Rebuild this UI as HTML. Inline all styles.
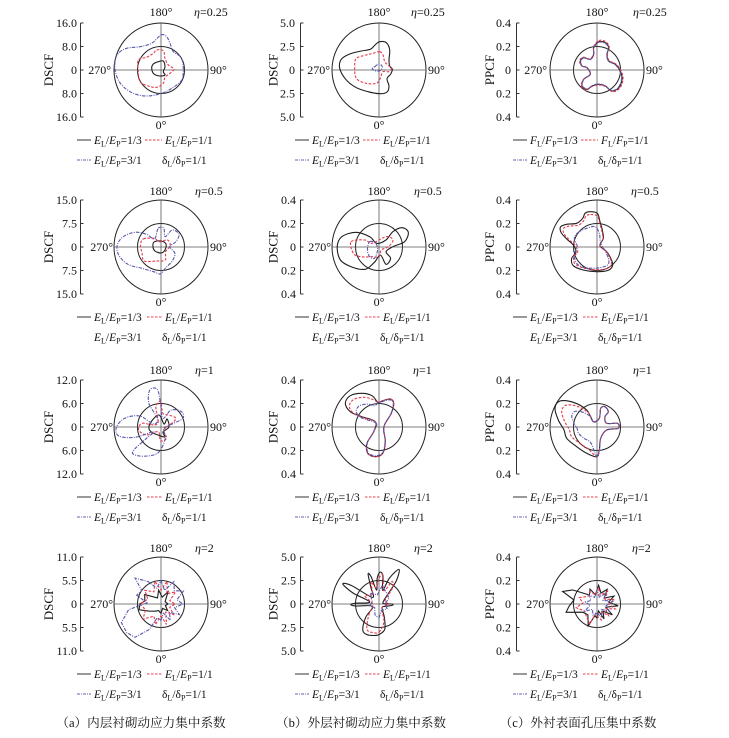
<!DOCTYPE html>
<html><head><meta charset="utf-8">
<style>
html,body{margin:0;padding:0;background:#fff;}
svg{display:block;}
text{font-family:"Liberation Serif","Noto Serif CJK SC",serif;fill:#111;font-size:12px;}
text:has(tspan.sb){font-size:11.5px;}
.c{fill:none;stroke:#222;stroke-width:1;}
.x{stroke:#555;stroke-width:0.8;}
.ax{fill:none;stroke:#333;stroke-width:1;}
.t{text-anchor:end;}
.m{text-anchor:middle;}
.e{text-anchor:end;}
.yl{text-anchor:middle;font-size:13px;}
.i{font-style:italic;}
.sb{font-size:8px;}
.lk{stroke:#333;stroke-width:1;}
.lr{stroke:#e8404f;stroke-width:1;stroke-dasharray:2.5,1.5;}
.lb{stroke:#6666b0;stroke-width:1;stroke-dasharray:3,1,1,1;}
.cap{font-family:"Liberation Serif","Noto Serif CJK SC",serif;font-size:12.6px;text-anchor:middle;}
</style></head><body>
<svg id="s" width="729" height="738" viewBox="0 0 729 738" xmlns="http://www.w3.org/2000/svg">
<rect width="729" height="738" fill="#fff"/>

<!-- ================= ROW 1 ================= -->
<g transform="translate(161,70)">
 <circle r="47" class="c"/><circle r="23.5" class="c"/>
 <line x1="-47" y1="0" x2="47" y2="0" class="x"/><line x1="0" y1="-47" x2="0" y2="47" class="x"/>
 <path d="M-80.5,-47V47M-80.5,-47h3M-80.5,-23.5h3M-80.5,0h3M-80.5,23.5h3M-80.5,47h3" class="ax"/>
 <text x="-84" y="-43" class="t">16.0</text><text x="-84" y="-19.5" class="t">8.0</text><text x="-84" y="4" class="t">0</text><text x="-84" y="27.5" class="t">8.0</text><text x="-84" y="51" class="t">16.0</text>
 <text transform="translate(-108,0) rotate(-90)" class="yl">DSCF</text>
 <text x="0" y="-54" class="m">180°</text><text x="0" y="59" class="m">0°</text>
 <text x="-50" y="4" class="e">270°</text><text x="49" y="4">90°</text>
 <text x="33" y="-54"><tspan class="i">η</tspan>=0.25</text>
 <line x1="-84" y1="70" x2="-70" y2="70" class="lk"/>
 <text x="-67" y="74"><tspan class="i">E</tspan><tspan class="sb" dy="2.5">L</tspan><tspan dy="-2.5">/</tspan><tspan class="i">E</tspan><tspan class="sb" dy="2.5">P</tspan><tspan dy="-2.5">=1/3</tspan></text>
 <line x1="-16" y1="70" x2="1" y2="70" class="lr"/>
 <text x="4" y="74"><tspan class="i">E</tspan><tspan class="sb" dy="2.5">L</tspan><tspan dy="-2.5">/</tspan><tspan class="i">E</tspan><tspan class="sb" dy="2.5">P</tspan><tspan dy="-2.5">=1/1</tspan></text>
 <line x1="-84" y1="90" x2="-70" y2="90" class="lb"/>
 <text x="-67" y="94"><tspan class="i">E</tspan><tspan class="sb" dy="2.5">L</tspan><tspan dy="-2.5">/</tspan><tspan class="i">E</tspan><tspan class="sb" dy="2.5">P</tspan><tspan dy="-2.5">=3/1</tspan></text>
 <text x="1" y="94">δ<tspan class="sb" dy="2.5">L</tspan><tspan dy="-2.5">/δ</tspan><tspan class="sb" dy="2.5">P</tspan><tspan dy="-2.5">=1/1</tspan></text>
</g>

<g transform="translate(379,70)">
 <circle r="47" class="c"/>
 <line x1="-47" y1="0" x2="47" y2="0" class="x"/><line x1="0" y1="-47" x2="0" y2="47" class="x"/>
 <path d="M-78.5,-47V47M-78.5,-47h3M-78.5,-23.5h3M-78.5,0h3M-78.5,23.5h3M-78.5,47h3" class="ax"/>
 <text x="-84" y="-43" class="t">5.0</text><text x="-84" y="-19.5" class="t">2.5</text><text x="-84" y="4" class="t">0</text><text x="-84" y="27.5" class="t">2.5</text><text x="-84" y="51" class="t">5.0</text>
 <text transform="translate(-101.5,0) rotate(-90)" class="yl">DSCF</text>
 <text x="0" y="-54" class="m">180°</text><text x="0" y="59" class="m">0°</text>
 <text x="-49" y="4" class="e">270°</text><text x="49" y="4">90°</text>
 <text x="32" y="-54"><tspan class="i">η</tspan>=0.25</text>
 <line x1="-84" y1="70" x2="-70" y2="70" class="lk"/>
 <text x="-67" y="74"><tspan class="i">E</tspan><tspan class="sb" dy="2.5">L</tspan><tspan dy="-2.5">/</tspan><tspan class="i">E</tspan><tspan class="sb" dy="2.5">P</tspan><tspan dy="-2.5">=1/3</tspan></text>
 <line x1="-16" y1="70" x2="1" y2="70" class="lr"/>
 <text x="4" y="74"><tspan class="i">E</tspan><tspan class="sb" dy="2.5">L</tspan><tspan dy="-2.5">/</tspan><tspan class="i">E</tspan><tspan class="sb" dy="2.5">P</tspan><tspan dy="-2.5">=1/1</tspan></text>
 <line x1="-84" y1="90" x2="-70" y2="90" class="lb"/>
 <text x="-67" y="94"><tspan class="i">E</tspan><tspan class="sb" dy="2.5">L</tspan><tspan dy="-2.5">/</tspan><tspan class="i">E</tspan><tspan class="sb" dy="2.5">P</tspan><tspan dy="-2.5">=3/1</tspan></text>
 <text x="1" y="94">δ<tspan class="sb" dy="2.5">L</tspan><tspan dy="-2.5">/δ</tspan><tspan class="sb" dy="2.5">P</tspan><tspan dy="-2.5">=1/1</tspan></text>
</g>

<g transform="translate(597,70)">
 <circle r="47" class="c"/><circle r="23.5" class="c"/>
 <line x1="-47" y1="0" x2="47" y2="0" class="x"/><line x1="0" y1="-47" x2="0" y2="47" class="x"/>
 <path d="M-80.5,-47V47M-80.5,-47h3M-80.5,-23.5h3M-80.5,0h3M-80.5,23.5h3M-80.5,47h3" class="ax"/>
 <text x="-86" y="-43" class="t">0.4</text><text x="-86" y="-19.5" class="t">0.2</text><text x="-86" y="4" class="t">0</text><text x="-86" y="27.5" class="t">0.2</text><text x="-86" y="51" class="t">0.4</text>
 <text transform="translate(-103,0) rotate(-90)" class="yl">PPCF</text>
 <text x="0" y="-54" class="m">180°</text><text x="0" y="59" class="m">0°</text>
 <text x="-50" y="4" class="e">270°</text><text x="49" y="4">90°</text>
 <text x="36" y="-54"><tspan class="i">η</tspan>=0.25</text>
 <line x1="-84" y1="70" x2="-70" y2="70" class="lk"/>
 <text x="-67" y="74"><tspan class="i">F</tspan><tspan class="sb" dy="2.5">L</tspan><tspan dy="-2.5">/</tspan><tspan class="i">F</tspan><tspan class="sb" dy="2.5">P</tspan><tspan dy="-2.5">=1/3</tspan></text>
 <line x1="-16" y1="70" x2="1" y2="70" class="lr"/>
 <text x="4" y="74"><tspan class="i">F</tspan><tspan class="sb" dy="2.5">L</tspan><tspan dy="-2.5">/</tspan><tspan class="i">F</tspan><tspan class="sb" dy="2.5">P</tspan><tspan dy="-2.5">=1/1</tspan></text>
 <line x1="-84" y1="90" x2="-70" y2="90" class="lb"/>
 <text x="-67" y="94"><tspan class="i">E</tspan><tspan class="sb" dy="2.5">L</tspan><tspan dy="-2.5">/</tspan><tspan class="i">E</tspan><tspan class="sb" dy="2.5">P</tspan><tspan dy="-2.5">=3/1</tspan></text>
 <text x="1" y="94">δ<tspan class="sb" dy="2.5">L</tspan><tspan dy="-2.5">/δ</tspan><tspan class="sb" dy="2.5">P</tspan><tspan dy="-2.5">=1/1</tspan></text>
</g>

<!-- ================= ROW 2 ================= -->
<g transform="translate(161,247)">
 <circle r="47" class="c"/><circle r="23.5" class="c"/>
 <line x1="-47" y1="0" x2="47" y2="0" class="x"/><line x1="0" y1="-47" x2="0" y2="47" class="x"/>
 <path d="M-80.5,-47V47M-80.5,-47h3M-80.5,-23.5h3M-80.5,0h3M-80.5,23.5h3M-80.5,47h3" class="ax"/>
 <text x="-84" y="-43" class="t">15.0</text><text x="-84" y="-19.5" class="t">7.5</text><text x="-84" y="4" class="t">0</text><text x="-84" y="27.5" class="t">7.5</text><text x="-84" y="51" class="t">15.0</text>
 <text transform="translate(-108,0) rotate(-90)" class="yl">DSCF</text>
 <text x="0" y="-52" class="m">180°</text><text x="0" y="59" class="m">0°</text>
 <text x="-48" y="4" class="e">270°</text><text x="49" y="4">90°</text>
 <text x="34" y="-52"><tspan class="i">η</tspan>=0.5</text>
 <line x1="-84" y1="70" x2="-70" y2="70" class="lk"/>
 <text x="-67" y="74"><tspan class="i">E</tspan><tspan class="sb" dy="2.5">L</tspan><tspan dy="-2.5">/</tspan><tspan class="i">E</tspan><tspan class="sb" dy="2.5">P</tspan><tspan dy="-2.5">=1/3</tspan></text>
 <line x1="-14" y1="70" x2="1" y2="70" class="lr"/>
 <text x="4" y="74"><tspan class="i">E</tspan><tspan class="sb" dy="2.5">L</tspan><tspan dy="-2.5">/</tspan><tspan class="i">E</tspan><tspan class="sb" dy="2.5">P</tspan><tspan dy="-2.5">=1/1</tspan></text>
 <text x="-67" y="94"><tspan class="i">E</tspan><tspan class="sb" dy="2.5">L</tspan><tspan dy="-2.5">/</tspan><tspan class="i">E</tspan><tspan class="sb" dy="2.5">P</tspan><tspan dy="-2.5">=3/1</tspan></text>
 <text x="1" y="94">δ<tspan class="sb" dy="2.5">L</tspan><tspan dy="-2.5">/δ</tspan><tspan class="sb" dy="2.5">P</tspan><tspan dy="-2.5">=1/1</tspan></text>
</g>

<g transform="translate(379,247)">
 <circle r="47" class="c"/><circle r="23.5" class="c"/>
 <line x1="-47" y1="0" x2="47" y2="0" class="x"/><line x1="0" y1="-47" x2="0" y2="47" class="x"/>
 <path d="M-78.5,-47V47M-78.5,-47h3M-78.5,-23.5h3M-78.5,0h3M-78.5,23.5h3M-78.5,47h3" class="ax"/>
 <text x="-83" y="-43" class="t">0.4</text><text x="-83" y="-19.5" class="t">0.2</text><text x="-83" y="4" class="t">0</text><text x="-83" y="27.5" class="t">0.2</text><text x="-83" y="51" class="t">0.4</text>
 <text transform="translate(-101.5,0) rotate(-90)" class="yl">DSCF</text>
 <text x="0" y="-52" class="m">180°</text><text x="0" y="59" class="m">0°</text>
 <text x="-48" y="4" class="e">270°</text><text x="49" y="4">90°</text>
 <text x="35" y="-52"><tspan class="i">η</tspan>=0.5</text>
 <line x1="-84" y1="70" x2="-70" y2="70" class="lk"/>
 <text x="-67" y="74"><tspan class="i">E</tspan><tspan class="sb" dy="2.5">L</tspan><tspan dy="-2.5">/</tspan><tspan class="i">E</tspan><tspan class="sb" dy="2.5">P</tspan><tspan dy="-2.5">=1/3</tspan></text>
 <line x1="-14" y1="70" x2="1" y2="70" class="lr"/>
 <text x="4" y="74"><tspan class="i">E</tspan><tspan class="sb" dy="2.5">L</tspan><tspan dy="-2.5">/</tspan><tspan class="i">E</tspan><tspan class="sb" dy="2.5">P</tspan><tspan dy="-2.5">=1/1</tspan></text>
 <text x="-67" y="94"><tspan class="i">E</tspan><tspan class="sb" dy="2.5">L</tspan><tspan dy="-2.5">/</tspan><tspan class="i">E</tspan><tspan class="sb" dy="2.5">P</tspan><tspan dy="-2.5">=3/1</tspan></text>
 <text x="1" y="94">δ<tspan class="sb" dy="2.5">L</tspan><tspan dy="-2.5">/δ</tspan><tspan class="sb" dy="2.5">P</tspan><tspan dy="-2.5">=1/1</tspan></text>
</g>

<g transform="translate(597,247)">
 <circle r="47" class="c"/><circle r="23.5" class="c"/>
 <line x1="-47" y1="0" x2="47" y2="0" class="x"/><line x1="0" y1="-47" x2="0" y2="47" class="x"/>
 <path d="M-80.5,-47V47M-80.5,-47h3M-80.5,-23.5h3M-80.5,0h3M-80.5,23.5h3M-80.5,47h3" class="ax"/>
 <text x="-86" y="-43" class="t">0.4</text><text x="-86" y="-19.5" class="t">0.2</text><text x="-86" y="4" class="t">0</text><text x="-86" y="27.5" class="t">0.2</text><text x="-86" y="51" class="t">0.4</text>
 <text transform="translate(-103,0) rotate(-90)" class="yl">PPCF</text>
 <text x="0" y="-52" class="m">180°</text><text x="0" y="59" class="m">0°</text>
 <text x="-48" y="4" class="e">270°</text><text x="49" y="4">90°</text>
 <text x="34" y="-52"><tspan class="i">η</tspan>=0.5</text>
 <line x1="-84" y1="70" x2="-70" y2="70" class="lk"/>
 <text x="-67" y="74"><tspan class="i">E</tspan><tspan class="sb" dy="2.5">L</tspan><tspan dy="-2.5">/</tspan><tspan class="i">E</tspan><tspan class="sb" dy="2.5">P</tspan><tspan dy="-2.5">=1/3</tspan></text>
 <line x1="-14" y1="70" x2="1" y2="70" class="lr"/>
 <text x="4" y="74"><tspan class="i">E</tspan><tspan class="sb" dy="2.5">L</tspan><tspan dy="-2.5">/</tspan><tspan class="i">E</tspan><tspan class="sb" dy="2.5">P</tspan><tspan dy="-2.5">=1/1</tspan></text>
 <text x="-67" y="94"><tspan class="i">E</tspan><tspan class="sb" dy="2.5">L</tspan><tspan dy="-2.5">/</tspan><tspan class="i">E</tspan><tspan class="sb" dy="2.5">P</tspan><tspan dy="-2.5">=3/1</tspan></text>
 <text x="1" y="94">δ<tspan class="sb" dy="2.5">L</tspan><tspan dy="-2.5">/δ</tspan><tspan class="sb" dy="2.5">P</tspan><tspan dy="-2.5">=1/1</tspan></text>
</g>

<!-- ================= ROW 3 ================= -->
<g transform="translate(161,427)">
 <circle r="47" class="c"/><circle r="23.5" class="c"/>
 <line x1="-47" y1="0" x2="47" y2="0" class="x"/><line x1="0" y1="-47" x2="0" y2="47" class="x"/>
 <path d="M-80.5,-47V47M-80.5,-47h3M-80.5,-23.5h3M-80.5,0h3M-80.5,23.5h3M-80.5,47h3" class="ax"/>
 <text x="-84" y="-43" class="t">12.0</text><text x="-84" y="-19.5" class="t">6.0</text><text x="-84" y="4" class="t">0</text><text x="-84" y="27.5" class="t">6.0</text><text x="-84" y="51" class="t">12.0</text>
 <text transform="translate(-108,0) rotate(-90)" class="yl">DSCF</text>
 <text x="0" y="-53" class="m">180°</text><text x="0" y="59" class="m">0°</text>
 <text x="-48" y="4" class="e">270°</text><text x="49" y="4">90°</text>
 <text x="34" y="-53"><tspan class="i">η</tspan>=1</text>
 <line x1="-84" y1="70" x2="-70" y2="70" class="lk"/>
 <text x="-67" y="74"><tspan class="i">E</tspan><tspan class="sb" dy="2.5">L</tspan><tspan dy="-2.5">/</tspan><tspan class="i">E</tspan><tspan class="sb" dy="2.5">P</tspan><tspan dy="-2.5">=1/3</tspan></text>
 <line x1="-14" y1="70" x2="1" y2="70" class="lr"/>
 <text x="4" y="74"><tspan class="i">E</tspan><tspan class="sb" dy="2.5">L</tspan><tspan dy="-2.5">/</tspan><tspan class="i">E</tspan><tspan class="sb" dy="2.5">P</tspan><tspan dy="-2.5">=1/1</tspan></text>
 <line x1="-84" y1="90" x2="-70" y2="90" class="lb"/>
 <text x="-67" y="94"><tspan class="i">E</tspan><tspan class="sb" dy="2.5">L</tspan><tspan dy="-2.5">/</tspan><tspan class="i">E</tspan><tspan class="sb" dy="2.5">P</tspan><tspan dy="-2.5">=3/1</tspan></text>
 <text x="1" y="94">δ<tspan class="sb" dy="2.5">L</tspan><tspan dy="-2.5">/δ</tspan><tspan class="sb" dy="2.5">P</tspan><tspan dy="-2.5">=1/1</tspan></text>
</g>

<g transform="translate(379,427)">
 <circle r="47" class="c"/><circle r="23.5" class="c"/>
 <line x1="-47" y1="0" x2="47" y2="0" class="x"/><line x1="0" y1="-47" x2="0" y2="47" class="x"/>
 <path d="M-78.5,-47V47M-78.5,-47h3M-78.5,-23.5h3M-78.5,0h3M-78.5,23.5h3M-78.5,47h3" class="ax"/>
 <text x="-83" y="-43" class="t">0.4</text><text x="-83" y="-19.5" class="t">0.2</text><text x="-83" y="4" class="t">0</text><text x="-83" y="27.5" class="t">0.2</text><text x="-83" y="51" class="t">0.4</text>
 <text transform="translate(-101.5,0) rotate(-90)" class="yl">DSCF</text>
 <text x="0" y="-53" class="m">180°</text><text x="0" y="59" class="m">0°</text>
 <text x="-48" y="4" class="e">270°</text><text x="49" y="4">90°</text>
 <text x="34" y="-53"><tspan class="i">η</tspan>=1</text>
 <line x1="-84" y1="70" x2="-70" y2="70" class="lk"/>
 <text x="-67" y="74"><tspan class="i">E</tspan><tspan class="sb" dy="2.5">L</tspan><tspan dy="-2.5">/</tspan><tspan class="i">E</tspan><tspan class="sb" dy="2.5">P</tspan><tspan dy="-2.5">=1/3</tspan></text>
 <line x1="-14" y1="70" x2="1" y2="70" class="lr"/>
 <text x="4" y="74"><tspan class="i">E</tspan><tspan class="sb" dy="2.5">L</tspan><tspan dy="-2.5">/</tspan><tspan class="i">E</tspan><tspan class="sb" dy="2.5">P</tspan><tspan dy="-2.5">=1/1</tspan></text>
 <line x1="-84" y1="90" x2="-70" y2="90" class="lb"/>
 <text x="-67" y="94"><tspan class="i">E</tspan><tspan class="sb" dy="2.5">L</tspan><tspan dy="-2.5">/</tspan><tspan class="i">E</tspan><tspan class="sb" dy="2.5">P</tspan><tspan dy="-2.5">=3/1</tspan></text>
 <text x="1" y="94">δ<tspan class="sb" dy="2.5">L</tspan><tspan dy="-2.5">/δ</tspan><tspan class="sb" dy="2.5">P</tspan><tspan dy="-2.5">=1/1</tspan></text>
</g>

<g transform="translate(597,427)">
 <circle r="47" class="c"/><circle r="23.5" class="c"/>
 <line x1="-47" y1="0" x2="47" y2="0" class="x"/><line x1="0" y1="-47" x2="0" y2="47" class="x"/>
 <path d="M-80.5,-47V47M-80.5,-47h3M-80.5,-23.5h3M-80.5,0h3M-80.5,23.5h3M-80.5,47h3" class="ax"/>
 <text x="-86" y="-43" class="t">0.4</text><text x="-86" y="-19.5" class="t">0.2</text><text x="-86" y="4" class="t">0</text><text x="-86" y="27.5" class="t">0.2</text><text x="-86" y="51" class="t">0.4</text>
 <text transform="translate(-103,0) rotate(-90)" class="yl">PPCF</text>
 <text x="0" y="-53" class="m">180°</text><text x="0" y="59" class="m">0°</text>
 <text x="-48" y="4" class="e">270°</text><text x="49" y="4">90°</text>
 <text x="36" y="-53"><tspan class="i">η</tspan>=1</text>
 <line x1="-84" y1="70" x2="-70" y2="70" class="lk"/>
 <text x="-67" y="74"><tspan class="i">E</tspan><tspan class="sb" dy="2.5">L</tspan><tspan dy="-2.5">/</tspan><tspan class="i">E</tspan><tspan class="sb" dy="2.5">P</tspan><tspan dy="-2.5">=1/3</tspan></text>
 <line x1="-14" y1="70" x2="1" y2="70" class="lr"/>
 <text x="4" y="74"><tspan class="i">E</tspan><tspan class="sb" dy="2.5">L</tspan><tspan dy="-2.5">/</tspan><tspan class="i">E</tspan><tspan class="sb" dy="2.5">P</tspan><tspan dy="-2.5">=1/1</tspan></text>
 <line x1="-84" y1="90" x2="-70" y2="90" class="lb"/>
 <text x="-67" y="94"><tspan class="i">E</tspan><tspan class="sb" dy="2.5">L</tspan><tspan dy="-2.5">/</tspan><tspan class="i">E</tspan><tspan class="sb" dy="2.5">P</tspan><tspan dy="-2.5">=3/1</tspan></text>
 <text x="1" y="94">δ<tspan class="sb" dy="2.5">L</tspan><tspan dy="-2.5">/δ</tspan><tspan class="sb" dy="2.5">P</tspan><tspan dy="-2.5">=1/1</tspan></text>
</g>

<!-- ================= ROW 4 ================= -->
<g transform="translate(161,604)">
 <circle r="47" class="c"/><circle r="23.5" class="c"/>
 <line x1="-47" y1="0" x2="47" y2="0" class="x"/><line x1="0" y1="-47" x2="0" y2="47" class="x"/>
 <path d="M-80.5,-47V47M-80.5,-47h3M-80.5,-23.5h3M-80.5,0h3M-80.5,23.5h3M-80.5,47h3" class="ax"/>
 <text x="-84" y="-43" class="t">11.0</text><text x="-84" y="-19.5" class="t">5.5</text><text x="-84" y="4" class="t">0</text><text x="-84" y="27.5" class="t">5.5</text><text x="-84" y="51" class="t">11.0</text>
 <text transform="translate(-108,0) rotate(-90)" class="yl">DSCF</text>
 <text x="0" y="-52" class="m">180°</text><text x="0" y="59" class="m">0°</text>
 <text x="-48" y="4" class="e">270°</text><text x="49" y="4">90°</text>
 <text x="34" y="-52"><tspan class="i">η</tspan>=2</text>
 <line x1="-84" y1="70" x2="-70" y2="70" class="lk"/>
 <text x="-67" y="74"><tspan class="i">E</tspan><tspan class="sb" dy="2.5">L</tspan><tspan dy="-2.5">/</tspan><tspan class="i">E</tspan><tspan class="sb" dy="2.5">P</tspan><tspan dy="-2.5">=1/3</tspan></text>
 <line x1="-14" y1="70" x2="1" y2="70" class="lr"/>
 <text x="4" y="74"><tspan class="i">E</tspan><tspan class="sb" dy="2.5">L</tspan><tspan dy="-2.5">/</tspan><tspan class="i">E</tspan><tspan class="sb" dy="2.5">P</tspan><tspan dy="-2.5">=1/1</tspan></text>
 <line x1="-84" y1="90" x2="-70" y2="90" class="lb"/>
 <text x="-67" y="94"><tspan class="i">E</tspan><tspan class="sb" dy="2.5">L</tspan><tspan dy="-2.5">/</tspan><tspan class="i">E</tspan><tspan class="sb" dy="2.5">P</tspan><tspan dy="-2.5">=3/1</tspan></text>
 <text x="1" y="94">δ<tspan class="sb" dy="2.5">L</tspan><tspan dy="-2.5">/δ</tspan><tspan class="sb" dy="2.5">P</tspan><tspan dy="-2.5">=1/1</tspan></text>
</g>

<g transform="translate(379,604)">
 <circle r="47" class="c"/><circle r="23.5" class="c"/>
 <line x1="-47" y1="0" x2="47" y2="0" class="x"/><line x1="0" y1="-47" x2="0" y2="47" class="x"/>
 <path d="M-78.5,-47V47M-78.5,-47h3M-78.5,-23.5h3M-78.5,0h3M-78.5,23.5h3M-78.5,47h3" class="ax"/>
 <text x="-83" y="-43" class="t">5.0</text><text x="-83" y="-19.5" class="t">2.5</text><text x="-83" y="4" class="t">0</text><text x="-83" y="27.5" class="t">2.5</text><text x="-83" y="51" class="t">5.0</text>
 <text transform="translate(-101.5,0) rotate(-90)" class="yl">DSCF</text>
 <text x="0" y="-52" class="m">180°</text><text x="0" y="59" class="m">0°</text>
 <text x="-48" y="4" class="e">270°</text><text x="49" y="4">90°</text>
 <text x="35" y="-52"><tspan class="i">η</tspan>=2</text>
 <line x1="-84" y1="70" x2="-70" y2="70" class="lk"/>
 <text x="-67" y="74"><tspan class="i">E</tspan><tspan class="sb" dy="2.5">L</tspan><tspan dy="-2.5">/</tspan><tspan class="i">E</tspan><tspan class="sb" dy="2.5">P</tspan><tspan dy="-2.5">=1/3</tspan></text>
 <line x1="-14" y1="70" x2="1" y2="70" class="lr"/>
 <text x="4" y="74"><tspan class="i">E</tspan><tspan class="sb" dy="2.5">L</tspan><tspan dy="-2.5">/</tspan><tspan class="i">E</tspan><tspan class="sb" dy="2.5">P</tspan><tspan dy="-2.5">=1/1</tspan></text>
 <line x1="-84" y1="90" x2="-70" y2="90" class="lb"/>
 <text x="-67" y="94"><tspan class="i">E</tspan><tspan class="sb" dy="2.5">L</tspan><tspan dy="-2.5">/</tspan><tspan class="i">E</tspan><tspan class="sb" dy="2.5">P</tspan><tspan dy="-2.5">=3/1</tspan></text>
 <text x="1" y="94">δ<tspan class="sb" dy="2.5">L</tspan><tspan dy="-2.5">/δ</tspan><tspan class="sb" dy="2.5">P</tspan><tspan dy="-2.5">=1/1</tspan></text>
</g>

<g transform="translate(597,604)">
 <circle r="47" class="c"/><circle r="23.5" class="c"/>
 <line x1="-47" y1="0" x2="47" y2="0" class="x"/><line x1="0" y1="-47" x2="0" y2="47" class="x"/>
 <path d="M-80.5,-47V47M-80.5,-47h3M-80.5,-23.5h3M-80.5,0h3M-80.5,23.5h3M-80.5,47h3" class="ax"/>
 <text x="-86" y="-43" class="t">0.4</text><text x="-86" y="-19.5" class="t">0.2</text><text x="-86" y="4" class="t">0</text><text x="-86" y="27.5" class="t">0.2</text><text x="-86" y="51" class="t">0.4</text>
 <text transform="translate(-103,0) rotate(-90)" class="yl">PPCF</text>
 <text x="0" y="-52" class="m">180°</text><text x="0" y="59" class="m">0°</text>
 <text x="-48" y="4" class="e">270°</text><text x="49" y="4">90°</text>
 <text x="35" y="-52"><tspan class="i">η</tspan>=2</text>
 <line x1="-84" y1="70" x2="-70" y2="70" class="lk"/>
 <text x="-67" y="74"><tspan class="i">E</tspan><tspan class="sb" dy="2.5">L</tspan><tspan dy="-2.5">/</tspan><tspan class="i">E</tspan><tspan class="sb" dy="2.5">P</tspan><tspan dy="-2.5">=1/3</tspan></text>
 <line x1="-14" y1="70" x2="1" y2="70" class="lr"/>
 <text x="4" y="74"><tspan class="i">E</tspan><tspan class="sb" dy="2.5">L</tspan><tspan dy="-2.5">/</tspan><tspan class="i">E</tspan><tspan class="sb" dy="2.5">P</tspan><tspan dy="-2.5">=1/1</tspan></text>
 <line x1="-84" y1="90" x2="-70" y2="90" class="lb"/>
 <text x="-67" y="94"><tspan class="i">E</tspan><tspan class="sb" dy="2.5">L</tspan><tspan dy="-2.5">/</tspan><tspan class="i">E</tspan><tspan class="sb" dy="2.5">P</tspan><tspan dy="-2.5">=3/1</tspan></text>
 <text x="1" y="94">δ<tspan class="sb" dy="2.5">L</tspan><tspan dy="-2.5">/δ</tspan><tspan class="sb" dy="2.5">P</tspan><tspan dy="-2.5">=1/1</tspan></text>
</g>

<g id="cv"></g>

<text x="141" y="727" class="cap">（a）内层衬砌动应力集中系数</text>
<text x="361" y="727" class="cap">（b）外层衬砌动应力集中系数</text>
<text x="578" y="727" class="cap">（c）外衬表面孔压集中系数</text>
</svg>

<script>
(function(){
var NS="http://www.w3.org/2000/svg";
var ST={k:{c:"#1e1e1e",d:null},r:{c:"#e8384c",d:"2.6,1.6"},b:{c:"#5858b0",d:"3.5,1.2,1,1.2"}};
function f(v){return v.toFixed(1);}
function cr(p){var n=p.length,d="M"+f(p[0][0])+","+f(p[0][1]);
 for(var i=0;i<n;i++){var p0=p[(i-1+n)%n],p1=p[i],p2=p[(i+1)%n],p3=p[(i+2)%n];
  d+="C"+f(p1[0]+(p2[0]-p0[0])/6)+","+f(p1[1]+(p2[1]-p0[1])/6)+" "+f(p2[0]-(p3[0]-p1[0])/6)+","+f(p2[1]-(p3[1]-p1[1])/6)+" "+f(p2[0])+","+f(p2[1]);}
 return d+"Z";}
function lin(p){return "M"+p.map(function(q){return f(q[0])+","+f(q[1]);}).join("L")+"Z";}
function pol(a){return a.map(function(e){var t=e[0]*Math.PI/180,r=e[1]*47;return [r*Math.sin(t),r*Math.cos(t)];});}
function sc(p,s){return p.map(function(q){return [q[0]*s,q[1]*s];});}
function scw(p,s,c){return p.map(function(q){return c(q)?[q[0]*s,q[1]*s]:q;});}
var G=document.getElementById("cv");
function draw(cx,cy,t,d){var e=document.createElementNS(NS,"path");e.setAttribute("d",d);
 e.setAttribute("transform","translate("+cx+","+cy+")");e.setAttribute("fill","none");
 e.setAttribute("stroke",ST[t].c);e.setAttribute("stroke-width","1.1");
 if(ST[t].d)e.setAttribute("stroke-dasharray",ST[t].d);G.appendChild(e);}

var k,r,b;
// Row 1
k=[[-2.7,-8.3],[2.3,-9],[4,-3.3],[2.3,1.7],[4,5],[-1,6],[-7,4],[-9.3,-1.7],[-7.7,-6]];
r=[[-4.3,-20],[2.3,-19.3],[4,-11.7],[7.3,-5],[13,-1],[9,3.3],[4,7.3],[2.3,13.3],[-4.3,17.3],[-12.7,16],[-21,11.7],[-22.7,1.7],[-22.7,-10],[-14.3,-12.7],[-7.7,-16.7]];
b=[[0,-35],[5.7,-33.3],[9,-26.7],[12.3,-18.3],[20,-12.7],[22.3,-1.7],[20.7,10],[12.3,17.3],[0.7,23.3],[-14.3,26],[-27.7,23.3],[-39.3,15],[-45.3,3.3],[-46,-8.3],[-42.7,-16.7],[-34.3,-21.7],[-21,-23.3],[-9.3,-26.7]];
draw(161,70,"k",cr(k));draw(161,70,"r",cr(r));draw(161,70,"b",cr(b));

k=[[0.7,-28.3],[7.3,-27.3],[10.7,-20],[10,-10],[10.7,-4],[13.3,-0.7],[11.7,4],[8,8.7],[10,16],[8,22],[0.7,23.7],[-11,21.7],[-23.3,17.3],[-33.3,9.3],[-39.3,-1.7],[-37.7,-10.7],[-29.3,-16],[-17.7,-19],[-8.7,-20.7],[-3.3,-25.7]];
r=[[0.7,-18.3],[4,-15],[5.7,-8.3],[9,-5],[12.3,-1.7],[10,1.7],[4,1.7],[1.3,8.3],[-2.7,13.3],[-12.7,13.3],[-22.7,8.3],[-24.3,-3.3],[-22.7,-11.7],[-12.7,-15],[-6,-16.7]];
b=[[-4.3,-3.3],[0,-6],[3.3,-3.3],[1.3,0.7],[-4.3,0.7],[-6.7,-1.7]];
draw(379,70,"k",cr(k));draw(379,70,"r",cr(r));draw(379,70,"b",cr(b));

k=[[1.7,-28.3],[8.3,-27.3],[11.7,-22.3],[10,-15.7],[11.7,-9],[18.3,-5.7],[23.3,1],[25,9.3],[21.7,17.7],[15,21],[8.3,16],[1.7,14.3],[-5,16],[-10,19.3],[-15,16],[-13.3,9.3],[-6.7,4.3],[-10,-2.3],[-15,-4],[-16.7,-9],[-13.3,-12.3],[-6.7,-10.7],[-3.3,-15.7],[-3.3,-22.3]];
draw(597,70,"k",cr(k));draw(597,70,"r",cr(sc(k,1.04)));draw(597,70,"b",cr(sc(k,0.98)));

// Row 2
b=[[-2.8,-18.7],[2.8,-18.7],[4.2,-10.3],[11.2,-17],[18.1,-12.7],[14.9,-5.3],[8.8,-0.3],[13.9,6.3],[11.2,14],[4.2,21.3],[-0.5,27],[-7.4,24.7],[-19.1,21.3],[-33,17.3],[-42.3,8],[-43.7,-2],[-37.7,-10.3],[-26,-14.7],[-14.4,-12.7],[-6.5,-8]];
r=[[-17.7,-8],[-7.4,-8.7],[-1.4,-5.3],[6.5,-7],[9.3,-1.3],[4.6,4.7],[4.2,13],[-5.1,14],[-16.7,14],[-19,6.3],[-20.5,-2]];
k=[[-7,-5],[0,-6],[5,-3],[4,3],[0,6],[-6,4],[-8,0]];
draw(161,247,"k",cr(k));draw(161,247,"r",cr(r));draw(161,247,"b",cr(b));

k=[[7,-7],[13.9,-15.3],[23.2,-19.3],[29.3,-14.7],[25.6,-5.3],[13.9,-0.3],[7,4.7],[11.6,11.3],[7,17.3],[1.4,8],[-4.6,15.3],[-13.9,22.3],[-27.9,19.7],[-38.6,13],[-41.8,-0.3],[-37.2,-10.3],[-23.2,-14.7],[-9.3,-10.3],[-2.3,-3.7]];
r=[[-27.9,-5.3],[-14,-7],[-7,-3.7],[7,-10.3],[14,-7],[9.3,-0.3],[2.3,3],[0,9.7],[-7,9.7],[-18.6,9.7],[-25.6,6.3]];
b=[[-9.3,-5.3],[-3.3,-3.7],[-1.4,3],[-4.6,11.3],[-9.3,9.7],[-11.6,3]];
draw(379,247,"k",cr(k));draw(379,247,"r",cr(r));draw(379,247,"b",cr(b));

k=[[-7,-35.3],[0.3,-33.7],[3,-25.3],[5.3,-17],[6.3,-8.7],[3,-1.3],[9.7,4.7],[13.7,11.3],[15.7,18],[11.3,23.3],[-0.3,24.7],[-13.7,23],[-23.7,18.7],[-25.3,11.3],[-21,5.3],[-23.7,-2],[-30.3,-8],[-36,-14.7],[-36.3,-20.3],[-30.3,-22.7],[-20.3,-23.7],[-14.3,-28.7],[-12,-33.7]];
b=[[-18.7,-14.7],[-10.3,-18.7],[-2,-20.3],[2.3,-13.7],[3.7,-3.7],[9,5.3],[11.7,16.3],[3,20.7],[-12,20.7],[-20.3,16.3],[-22.7,7.3],[-19.7,-0.3],[-22.7,-8.7]];
draw(597,247,"k",cr(k));draw(597,247,"r",cr(sc(k,0.92)));draw(597,247,"b",cr(b));

// Row 3
b=[[-3.7,-8.7],[-12.1,-23.7],[-11.2,-37],[-3.7,-37.7],[-0.5,-23.7],[1.9,-8.7],[10.2,-17],[20.5,-15.3],[21.9,-8.7],[11.2,-3],[2.8,1.3],[4.2,11.3],[-0.5,23],[-7.4,28],[-21.4,29],[-28.4,24.7],[-14.4,11.3],[-7.4,4.7],[-26,10.3],[-42.3,9],[-44.6,0.3],[-36.3,-8.7],[-21.4,-11],[-7.4,-3]];
r=[[-2.8,-5.3],[-5.1,-20.3],[-0.5,-25.3],[1.9,-13.7],[7.4,-12],[14.9,-8.7],[8.8,-2],[2.8,3],[5.6,11.3],[-0.5,13.7],[-2.8,4.7],[-14.4,8],[-22.3,3],[-19.1,-3.7],[-7.4,-2]];
k=[[-10,-5],[-2,-12],[3,-3],[6,-8],[8,0],[2,5],[4,10],[-3,8],[-8,6],[-12,2]];
draw(161,427,"k",cr(k));draw(161,427,"r",cr(r));draw(161,427,"b",cr(b));

k=[[-3.7,-5.3],[-17,-10.3],[-28.7,-15.3],[-33.7,-23.7],[-28.7,-31.3],[-17,-33.7],[-7,-31.3],[-1,-24.7],[3,-26],[11.3,-28],[14.7,-23.7],[12.3,-13.7],[6.3,-3.7],[4.7,3],[6.3,14.7],[3.7,26.3],[-3.7,29.7],[-11.3,26.3],[-12,16.3],[-5.3,4.7]];
var ul=function(q){return q[0]<-1.5&&q[1]<-1.5;};
draw(379,427,"k",cr(k));draw(379,427,"r",cr(scw(k,0.88,ul)));draw(379,427,"b",cr(scw(sc(k,0.97),0.7,ul)));

k=[[-3.7,-5.3],[-10.3,-17],[-23.7,-24.7],[-37,-26],[-42,-18.7],[-38.7,-7],[-33,3],[-30.3,11.3],[-20.3,19.7],[-10.3,26.3],[-0.3,29.7],[2.3,23],[3.7,11.3],[9.7,3],[21.3,1.3],[20.3,-3.7],[9.7,-3.7],[8,-10.3],[11.3,-15.3],[8,-20.3],[3.7,-18.7],[2.3,-8.7]];
var lf=function(q){return q[0]<-4;};
draw(597,427,"k",cr(k));draw(597,427,"r",cr(scw(k,0.84,lf)));draw(597,427,"b",cr(scw(k,0.6,lf)));

// Row 4
k=pol([[0,0.2],[20,0.1],[45,0.2],[70,0.1],[90,0.15],[120,0.1],[150,0.3],[170,0.15],[190,0.3],[210,0.15],[240,0.4],[260,0.35],[270,0.45],[285,0.48],[300,0.3],[320,0.2],[340,0.15]]);
r=pol([[0,0.25],[15,0.45],[30,0.2],[50,0.35],[70,0.2],[90,0.3],[110,0.2],[130,0.4],[150,0.25],[165,0.5],[180,0.3],[195,0.5],[210,0.3],[230,0.45],[250,0.3],[270,0.45],[290,0.35],[310,0.5],[330,0.3],[345,0.45]]);
b=pol([[0,0.35],[15,0.2],[30,0.4],[45,0.25],[60,0.45],[75,0.3],[90,0.47],[105,0.35],[120,0.55],[135,0.4],[150,0.55],[165,0.3],[180,0.5],[195,0.35],[210,0.55],[225,0.78],[235,0.5],[250,0.55],[265,0.3],[280,0.7],[295,0.93],[310,0.95],[322,0.9],[335,0.6],[345,0.3]]);
draw(161,604,"k",lin(k));draw(161,604,"r",lin(r));draw(161,604,"b",lin(b));

k=pol([[0,0.65],[13,0.55],[22,0.3],[40,0.1],[70,0.15],[84,0.28],[90,0.28],[96,0.1],[130,0.15],[143,0.6],[150,0.85],[158,0.6],[165,0.3],[172,0.6],[178,0.68],[184,0.55],[190,0.3],[196,0.6],[200,0.68],[206,0.4],[225,0.2],[236,0.7],[241,0.88],[247,0.6],[258,0.2],[268,0.5],[271,0.6],[275,0.5],[290,0.15],[315,0.4],[328,0.65],[338,0.7],[350,0.68]]);
r=pol([[0,0.6],[15,0.4],[25,0.15],[60,0.1],[90,0.2],[120,0.15],[140,0.45],[150,0.55],[160,0.3],[172,0.62],[180,0.55],[190,0.35],[200,0.5],[215,0.25],[240,0.35],[260,0.15],[290,0.15],[320,0.35],[335,0.6],[348,0.62]]);
b=pol([[0,0.3],[20,0.15],[60,0.2],[90,0.12],[120,0.25],[150,0.3],[170,0.4],[190,0.2],[220,0.3],[250,0.15],[280,0.2],[310,0.12],[340,0.25]]);
draw(379,604,"k",cr(k));draw(379,604,"r",cr(r));draw(379,604,"b",lin(b));

k=pol([[0,0.3],[12,0.15],[25,0.35],[40,0.2],[55,0.4],[70,0.2],[85,0.45],[100,0.25],[115,0.4],[130,0.2],[145,0.38],[160,0.25],[175,0.4],[190,0.2],[205,0.35],[220,0.25],[240,0.6],[250,0.78],[260,0.5],[275,0.6],[285,0.68],[300,0.35],[320,0.3],[338,0.5],[350,0.25]]);
r=pol([[0,0.25],[15,0.35],[30,0.2],[45,0.35],[60,0.2],[75,0.4],[90,0.25],[105,0.38],[120,0.2],[140,0.35],[160,0.2],[175,0.35],[190,0.2],[210,0.3],[230,0.25],[250,0.4],[265,0.3],[280,0.45],[300,0.3],[320,0.35],[340,0.45],[352,0.2]]);
b=pol([[0,0.2],[20,0.3],[40,0.15],[60,0.3],[80,0.2],[100,0.35],[120,0.15],[140,0.3],[160,0.15],[180,0.3],[200,0.15],[220,0.25],[240,0.15],[260,0.25],[280,0.15],[300,0.3],[320,0.15],[340,0.25]]);
draw(597,604,"k",lin(k));draw(597,604,"r",lin(r));draw(597,604,"b",lin(b));
})();
</script>
</body></html>
